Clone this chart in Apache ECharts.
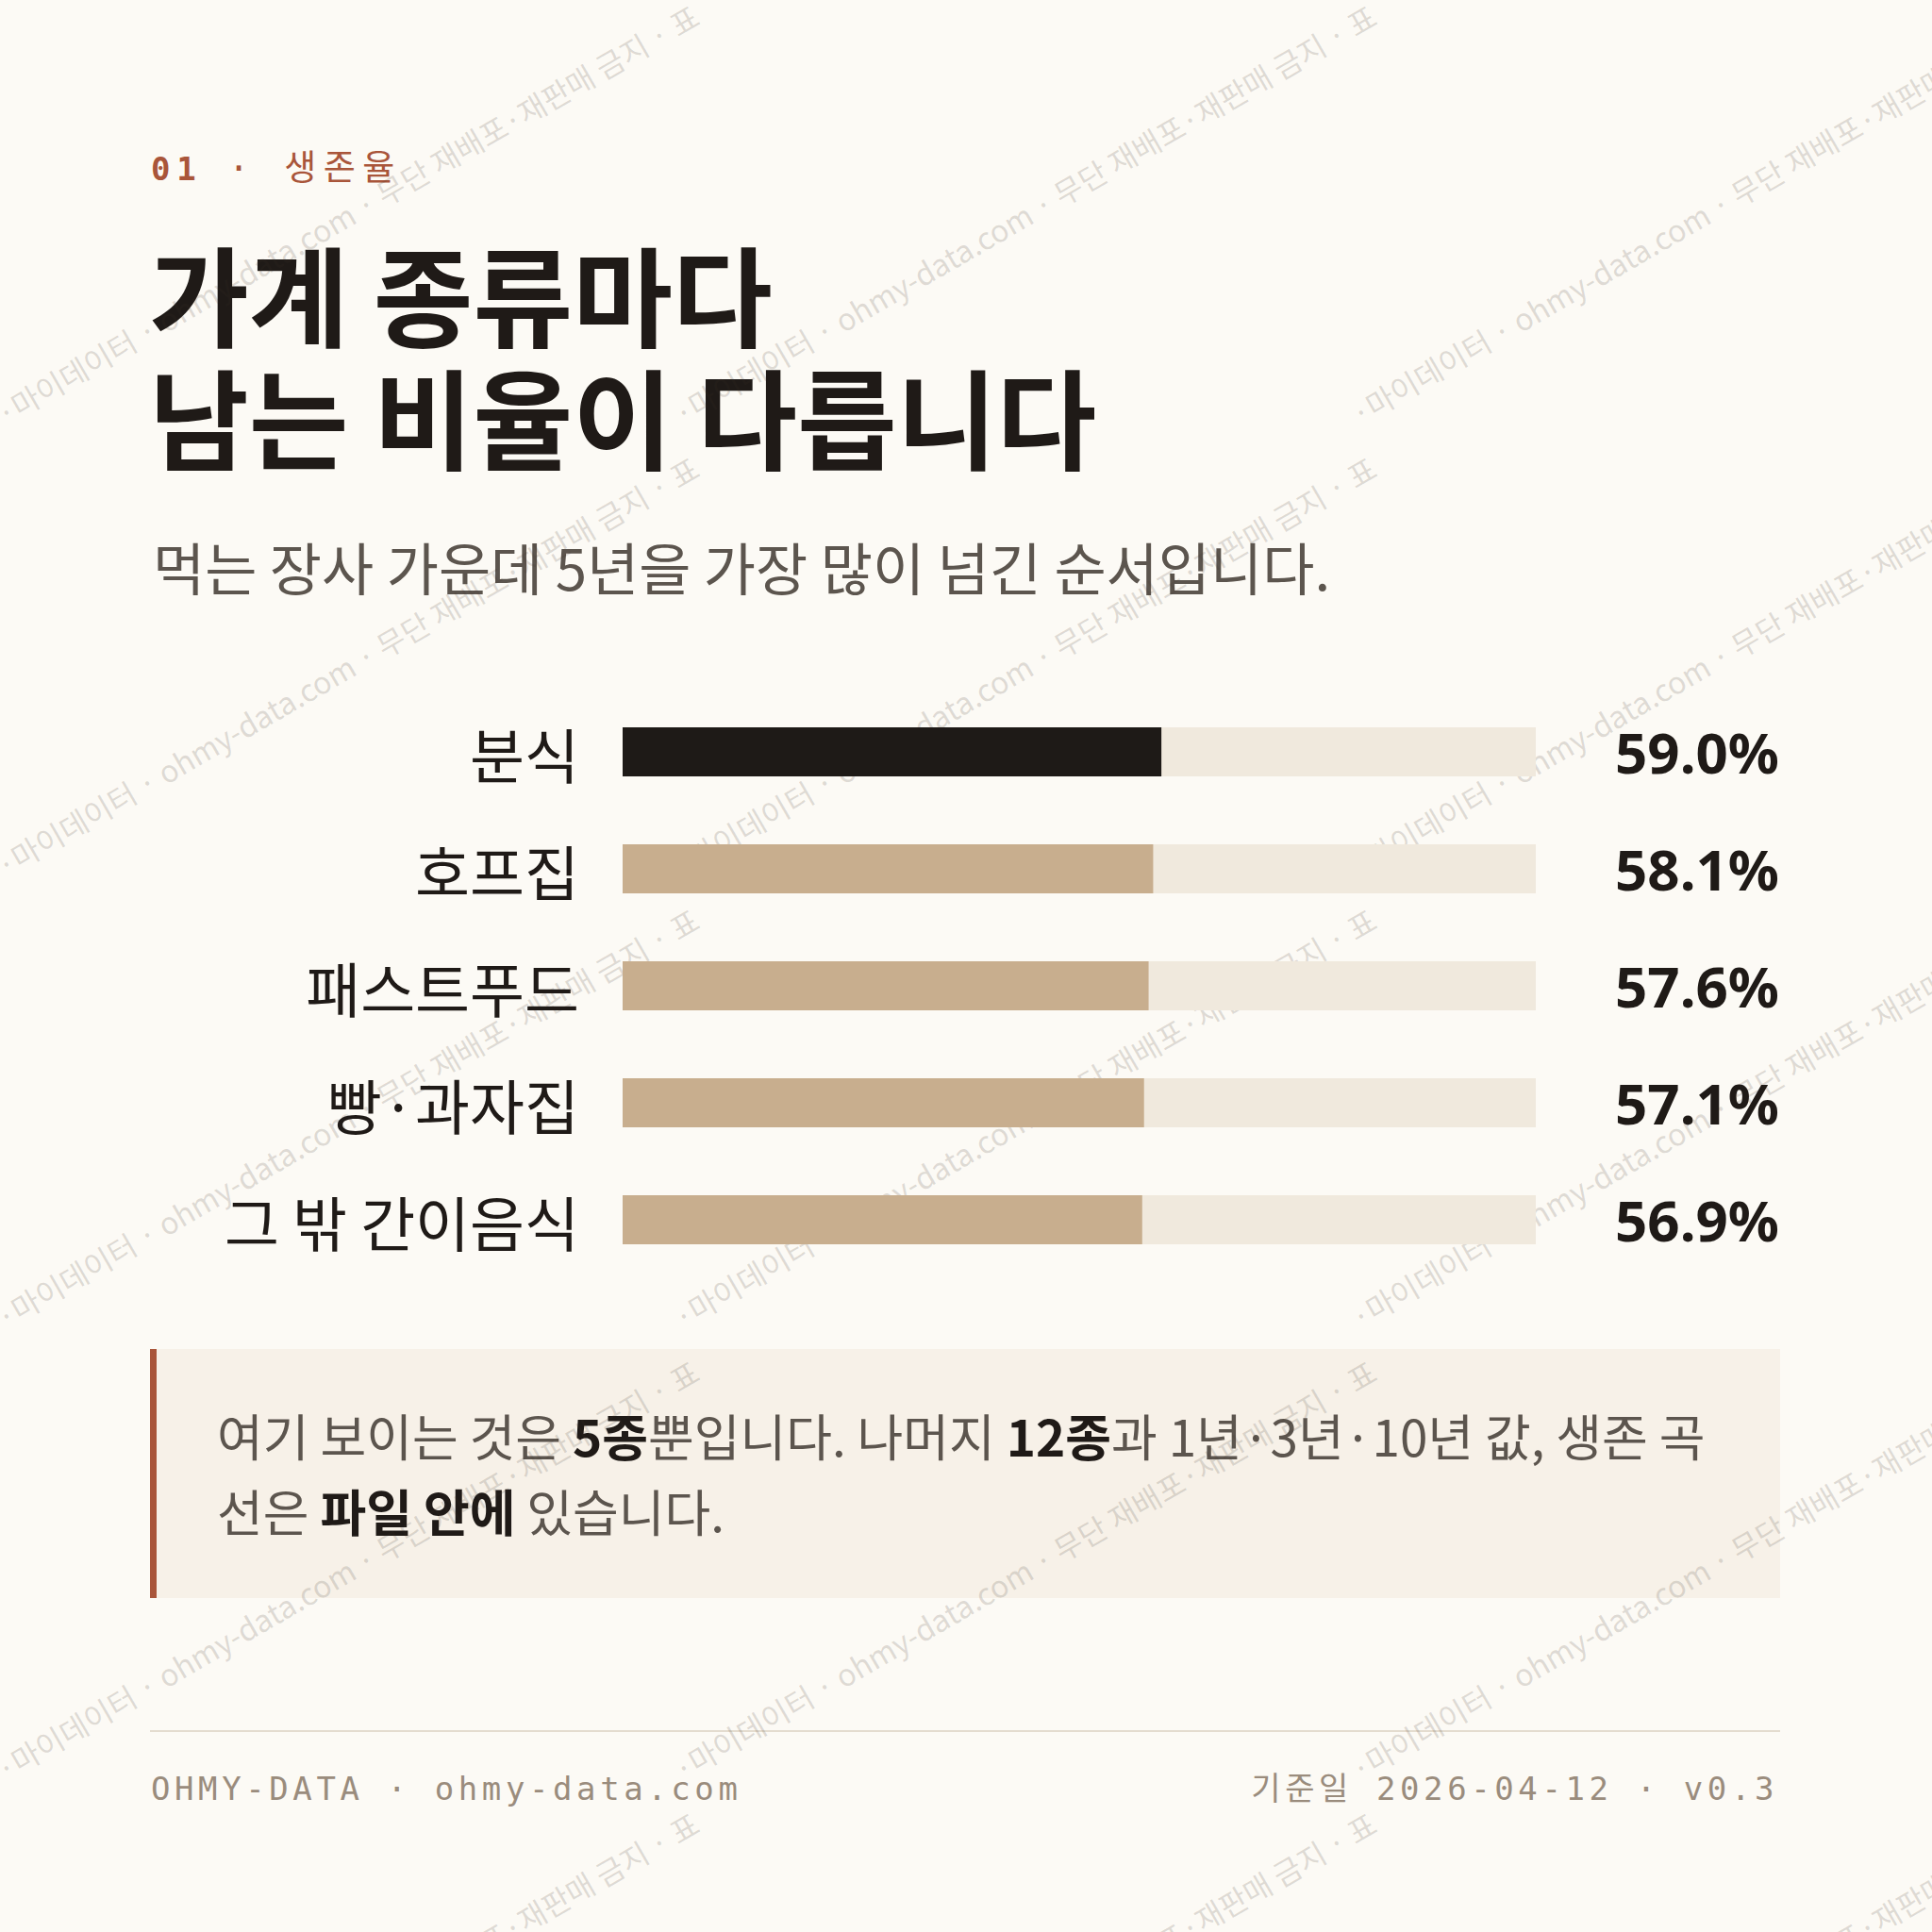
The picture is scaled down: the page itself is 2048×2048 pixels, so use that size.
<!DOCTYPE html>
<html>
<head>
<meta charset="utf-8">
<script src="https://cdn.jsdelivr.net/npm/echarts@6/dist/echarts.min.js"></script>
<style>
  html, body { margin: 0; padding: 0; background: #fcfaf5; }
  #chart { width: 2048px; height: 2048px; }
  /* zrender has no letterSpacing, so the mono texts get it from css (svg renderer) */
  #chart text[style*="Mono"] { letter-spacing: 0.135em; }
  #chart text[style*="monospace"] { letter-spacing: 0.2em; }
</style>
</head>
<body>
<div id="chart"></div>
<script>
// 5-year survival rate by store type (%)
const categories = ["분식", "호프집", "패스트푸드", "빵·과자집", "그 밖 간이음식"];
const survival5y = [59.0, 58.1, 57.6, 57.1, 56.9];
const highlightIdx = 0;
const valueLabels = survival5y.map((v) => v.toFixed(1) + "%");

const kicker = "· 생존율";
const kickerNum = "01";
const title = "가계 종류마다\n남는 비율이 다릅니다";
const subtitle = "먹는 장사 가운데 5년을 가장 많이 넘긴 순서입니다.";
const note =
  "여기 보이는 것은 {b|5종}뿐입니다. 나머지 {b|12종}과 1년·3년·10년 값, 생존 곡\n" +
  "선은 {b|파일 안에} 있습니다.";
const footLeft = "OHMY-DATA · ohmy-data.com";
const footRight = "기준일 2026-04-12 · v0.3";
const watermark = "·마이데이터 · ohmy-data.com · 무단 재배포·재판매 금지 · 표";

const INK = "#1f1a17";
const GREY = "#5c554e";
const RUST = "#a9553a";
const MUTED = "#9a8c7d";
const KR = "'Noto Sans CJK KR', 'Noto Sans', sans-serif";
const MONO_FOOT = "'DejaVu Sans Mono', 'Noto Sans CJK KR'";
const MONO_KICK = "'DejaVu Sans Mono', 'Noto Sans CJK KR', monospace";

const chart = echarts.init(document.getElementById("chart"), null, {
  renderer: "svg",
  width: 2048,
  height: 2048,
});

// tiled diagonal watermark
const wmEls = [];
const tileW = 718;
const tileH = 479;
for (let r = 0; r < 5; r++) {
  for (let c = 0; c < 3; c++) {
    wmEls.push({
      type: "text",
      x: c * tileW - 2,
      y: r * tileH + 440,
      rotation: Math.PI / 6,
      silent: true,
      style: {
        text: watermark,
        fontSize: 32,
        fontFamily: KR,
        fill: "rgba(60,50,40,0.17)",
        align: "left",
        verticalAlign: "middle",
      },
    });
  }
}

const txt = (x, y, text, style) => ({
  type: "text",
  x,
  y,
  silent: true,
  style: Object.assign({ text, align: "left", verticalAlign: "middle" }, style),
});

chart.setOption({
  backgroundColor: "#fcfaf5",
  animation: false,
  grid: { left: 660, top: 735, width: 968, height: 620 },
  xAxis: { type: "value", min: 0, max: 100, show: false },
  yAxis: [
    {
      type: "category",
      data: categories,
      inverse: true,
      axisLine: { show: false },
      axisTick: { show: false },
      splitLine: { show: false },
      axisLabel: {
        margin: 46,
        fontSize: 63,
        fontFamily: KR,
        color: INK,
      },
    },
    {
      type: "category",
      data: valueLabels,
      inverse: true,
      position: "right",
      axisLine: { show: false },
      axisTick: { show: false },
      splitLine: { show: false },
      axisLabel: {
        margin: 258,
        align: "right",
        fontSize: 60,
        fontWeight: "bold",
        fontFamily: "'Noto Sans', sans-serif",
        color: INK,
      },
    },
  ],
  series: [
    {
      type: "bar",
      barWidth: 52,
      silent: true,
      showBackground: true,
      backgroundStyle: { color: "#f0e9dd" },
      data: survival5y.map((v, i) => ({
        value: v,
        itemStyle: { color: i === highlightIdx ? "#1e1a17" : "#c8ae8e" },
      })),
    },
  ],
  graphic: [
    {
      type: "group",
      z: 1,
      children: [
        txt(160, 179, kickerNum, { fontSize: 34, fontWeight: "bold", fontFamily: MONO_KICK, fill: RUST }),
        txt(242, 178, kicker, { fontSize: 37, fontFamily: MONO_KICK, fill: RUST }),
        {
          type: "text",
          x: 158,
          y: 244,
          silent: true,
          style: {
            text: title,
            fontSize: 115,
            fontWeight: "bold",
            fontFamily: KR,
            lineHeight: 130,
            fill: INK,
            align: "left",
            verticalAlign: "top",
          },
        },
        txt(162, 599, subtitle, { fontSize: 60, fontFamily: KR, fill: GREY }),
        {
          type: "rect",
          silent: true,
          shape: { x: 159, y: 1430, width: 1728, height: 264 },
          style: { fill: "#f7f1e8" },
        },
        {
          type: "rect",
          silent: true,
          shape: { x: 159, y: 1430, width: 7, height: 264 },
          style: { fill: RUST },
        },
        {
          type: "text",
          x: 230,
          y: 1481,
          silent: true,
          style: {
            text: note,
            fontSize: 53,
            fontFamily: KR,
            lineHeight: 80,
            fill: GREY,
            align: "left",
            verticalAlign: "top",
            rich: {
              b: { fontSize: 53, fontFamily: KR, fontWeight: "bold", fill: INK, lineHeight: 80 },
            },
          },
        },
        {
          type: "line",
          silent: true,
          shape: { x1: 159, y1: 1835, x2: 1887, y2: 1835 },
          style: { stroke: "#e4dccf", lineWidth: 2 },
        },
        txt(160, 1896, footLeft, { fontSize: 34, fontFamily: MONO_FOOT, fill: MUTED }),
        txt(1885, 1896, footRight, { fontSize: 34, fontFamily: MONO_FOOT, fill: MUTED, align: "right" }),
      ],
    },
    {
      type: "group",
      z: 100,
      silent: true,
      children: wmEls,
    },
  ],
});
</script>
</body>
</html>
